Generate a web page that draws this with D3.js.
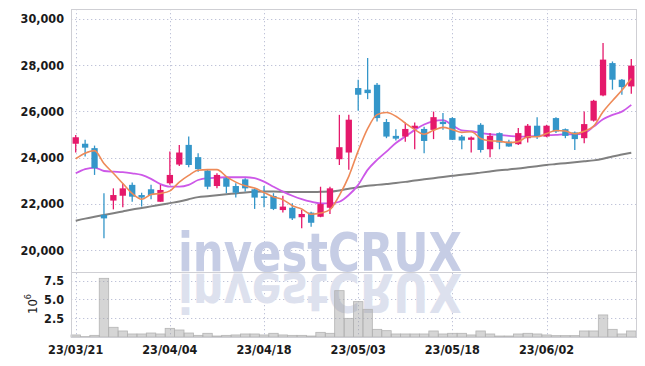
<!DOCTYPE html>
<html>
<head>
<meta charset="utf-8">
<script src="https://cdn.jsdelivr.net/npm/d3@7"></script>
<style>
html, body { margin: 0; padding: 0; background: #fff; }
svg { display: block; }
text { font-family: "DejaVu Sans Condensed", "DejaVu Sans", sans-serif; font-stretch: condensed; fill: #1a1a1a; }
</style>
</head>
<body>
<svg id="chart" width="645" height="366"></svg>
<script>
// 캔들 + 이동평균 + 거래량

const dates = [
    "23/03/21", "23/03/22", "23/03/23", "23/03/24", "23/03/27", "23/03/28", "23/03/29", "23/03/30", "23/03/31", "23/04/03",
    "23/04/04", "23/04/05", "23/04/06", "23/04/07", "23/04/10", "23/04/11", "23/04/12", "23/04/13", "23/04/14", "23/04/17",
    "23/04/18", "23/04/19", "23/04/20", "23/04/21", "23/04/24", "23/04/25", "23/04/26", "23/04/27", "23/04/28", "23/05/02",
    "23/05/03", "23/05/04", "23/05/08", "23/05/09", "23/05/10", "23/05/11", "23/05/12", "23/05/15", "23/05/16", "23/05/17",
    "23/05/18", "23/05/19", "23/05/22", "23/05/23", "23/05/24", "23/05/25", "23/05/26", "23/05/30", "23/05/31", "23/06/01",
    "23/06/02", "23/06/05", "23/06/07", "23/06/08", "23/06/09", "23/06/12", "23/06/13", "23/06/14", "23/06/15", "23/06/16"
];

const opens = [
    24600, 24600, 24410, 21520, 22140, 22350, 22820, 22380, 22630, 22090,
    22890, 23700, 24550, 24020, 23440, 22770, 23110, 22770, 23060, 22630,
    22320, 22340, 21730, 21830, 21420, 21620, 21440, 21830, 23930, 24220,
    27010, 26940, 27150, 25540, 24940, 24910, 25280, 25240, 25200, 25550,
    25710, 24910, 24770, 25420, 24360, 25060, 24690, 24580, 24840, 25380,
    24910, 25710, 25230, 25090, 24840, 25600, 26690, 28090, 27370, 27080
];
const highs = [
    24980, 24770, 24520, 22460, 22670, 22890, 22920, 22480, 22820, 22820,
    24260, 24550, 24910, 24190, 23470, 23320, 23180, 22890, 23110, 22670,
    22770, 22460, 22350, 22020, 21730, 21660, 22740, 22740, 25850, 25850,
    27370, 28310, 27230, 25670, 25230, 25520, 25520, 25340, 25990, 25930,
    25750, 24980, 24910, 25490, 25060, 25090, 24770, 25280, 25450, 25750,
    25420, 25750, 25260, 25130, 25990, 26500, 28960, 28160, 27400, 28270
];
const lows = [
    24220, 24050, 23250, 20510, 21760, 21850, 22090, 21880, 22200, 22090,
    22820, 23640, 23580, 23390, 22630, 22670, 22460, 22270, 22530, 21780,
    21850, 21730, 21620, 21300, 20940, 21010, 21420, 21560, 23680, 23470,
    26030, 26530, 25560, 24840, 24740, 24690, 24360, 24190, 24800, 25200,
    24760, 24360, 24220, 24220, 24020, 24360, 24470, 24550, 24650, 24800,
    24880, 25060, 24840, 24330, 24620, 25560, 26650, 26940, 26720, 26760
];
const closes = [
    24880, 24430, 23540, 21370, 22380, 22670, 22310, 22270, 22380, 22600,
    23250, 24220, 23680, 23500, 22740, 23250, 22740, 22480, 22670, 22270,
    22300, 21780, 21880, 21370, 21560, 21180, 21990, 22670, 24450, 25640,
    26720, 26790, 25710, 24910, 24820, 25240, 25380, 24720, 25750, 25450,
    24770, 24740, 24870, 24330, 24940, 24650, 24480, 25060, 25380, 24910,
    25380, 25130, 24940, 24800, 25450, 26460, 28240, 27370, 27050, 27980
];

// 거래량 (백만)
const volumes = [
    0.27, 0.05, 0.22, 7.8, 1.29, 0.8, 0.4, 0.4, 0.53, 0.4,
    1.15, 0.93, 0.53, 0.22, 0.49, 0.13, 0.22, 0.27, 0.4, 0.4,
    0.27, 0.49, 0.27, 0.22, 0.22, 0.13, 0.62, 0.49, 6.16, 2.48,
    4.7, 3.68, 1.02, 0.84, 0.4, 0.4, 0.4, 0.4, 0.8, 0.4,
    0.49, 0.49, 0.27, 0.8, 0.4, 0.13, 0.13, 0.4, 0.49, 0.4,
    0.27, 0.18, 0.18, 0.18, 0.8, 0.8, 2.93, 1.02, 0.4, 0.8
];

const ma5 = [
    23950, 24190, 24300, 23740, 23320, 22880, 22450, 22200, 22400, 22450,
    22560, 22940, 23230, 23450, 23480, 23480, 23180, 22940, 22780, 22680,
    22490, 22300, 22180, 21920, 21780, 21550, 21600, 21750, 22370, 23190,
    24290, 25250, 25860, 25950, 25790, 25490, 25210, 25010, 25180, 25310,
    25210, 25090, 25120, 24830, 24730, 24710, 24650, 24690, 24900, 24900,
    25040, 25170, 25150, 25030, 25140, 25360, 25980, 26460, 26910, 27420
];
const ma20 = [
    23320, 23500, 23570, 23420, 23390, 23370, 23320, 23250, 23080, 22850,
    22740, 22740, 22820, 23030, 23110, 23130, 23150, 23150, 23150, 23110,
    22960, 22740, 22530, 22350, 22200, 22090, 22020, 22020, 22090, 22380,
    22820, 23470, 23900, 24260, 24630, 24910, 25200, 25430, 25580, 25620,
    25400, 25180, 25140, 25060, 25010, 24980, 24940, 24910, 24910, 24940,
    24970, 24980, 25010, 25010, 25060, 25340, 25660, 25850, 25990, 26280
];
const ma120 = [
    21270, 21360, 21440, 21516, 21590, 21670, 21750, 21820, 21890, 21960,
    22030, 22100, 22200, 22290, 22330, 22370, 22410, 22450, 22490, 22520,
    22530, 22530, 22520, 22510, 22510, 22510, 22520, 22530, 22580, 22650,
    22720, 22780, 22820, 22860, 22900, 22950, 23010, 23060, 23110, 23160,
    23210, 23260, 23300, 23350, 23400, 23450, 23490, 23530, 23580, 23630,
    23680, 23720, 23760, 23800, 23840, 23880, 23950, 24050, 24130, 24210
];

const priceTicks = [20000, 22000, 24000, 26000, 28000, 30000];
const volumeTicks = [2.5, 5.0, 7.5];
const tickDates = ["23/03/21", "23/04/04", "23/04/18", "23/05/03", "23/05/18", "23/06/02"];

const upColor = "#e5196b";
const downColor = "#3496c9";

// ---- layout ----
const plotLeft = 71, plotRight = 636, plotTop = 9, plotMid = 272, plotBottom = 337;

const svg = d3.select("#chart");

const x = d3.scaleBand().domain(dates).range([plotLeft, plotRight])
    .paddingInner(0.33).paddingOuter(0.165);
const cx = d => x(d) + x.bandwidth() / 2;

const y = d3.scaleLinear().domain([19050, 30430]).range([plotMid, plotTop]);
const yv = d3.scaleLinear().domain([0, 8.64]).range([plotBottom, plotMid]);

svg.append("defs").append("clipPath").attr("id", "clip-price")
    .append("rect").attr("x", plotLeft).attr("y", plotTop)
    .attr("width", plotRight - plotLeft).attr("height", plotMid - plotTop);

// ---- grid ----
const grid = svg.append("g").attr("stroke", "#bfc3d8").attr("stroke-dasharray", "1.3,2.7").attr("stroke-width", 1);

grid.selectAll(".hg").data(priceTicks).enter().append("line")
    .attr("x1", plotLeft).attr("x2", plotRight)
    .attr("y1", d => Math.round(y(d)) + 0.5).attr("y2", d => Math.round(y(d)) + 0.5);

grid.selectAll(".vg").data(volumeTicks).enter().append("line")
    .attr("x1", plotLeft).attr("x2", plotRight)
    .attr("y1", d => Math.round(yv(d)) + 0.5).attr("y2", d => Math.round(yv(d)) + 0.5);

grid.selectAll(".xg").data(tickDates).enter().append("line")
    .attr("x1", d => Math.round(cx(d)) + 0.5).attr("x2", d => Math.round(cx(d)) + 0.5)
    .attr("y1", plotTop).attr("y2", plotBottom);

// ---- watermark (글자 + 반사) ----
const wm = svg.append("g").attr("pointer-events", "none");
const wmText = (sel, fill) => sel
    .attr("x", 178).attr("y", 271)
    .attr("textLength", 284).attr("lengthAdjust", "spacingAndGlyphs")
    .style("font-family", "'DejaVu Sans', sans-serif")
    .style("font-stretch", "normal")
    .style("font-weight", "bold").style("font-size", "54px")
    .style("fill", fill)
    .text("investCRUX");
wm.append("text").call(wmText, "#c6cde5");
wm.append("g")
    .attr("transform", `translate(0, ${2 * 272.5}) scale(1, -1)`)
    .append("text").call(wmText, "#dde1ee");

// ---- volume ----
svg.append("g").selectAll("rect").data(dates).enter().append("rect")
    .attr("x", d => cx(d) - x.step() / 2)
    .attr("width", x.step())
    .attr("y", (d, i) => yv(volumes[i]))
    .attr("height", (d, i) => plotBottom - yv(volumes[i]))
    .attr("fill", "#9a9a9a").attr("fill-opacity", 0.42)
    .attr("stroke", "#b4b4b4").attr("stroke-width", 0.8);

// ---- frame ----
const frame = svg.append("g").attr("stroke", "#cfcfd4").attr("stroke-width", 1).attr("fill", "none");
frame.append("rect").attr("x", plotLeft + 0.5).attr("y", plotTop + 0.5)
    .attr("width", plotRight - plotLeft).attr("height", plotBottom - plotTop);
frame.append("line").attr("x1", plotLeft).attr("x2", plotRight + 1)
    .attr("y1", plotMid + 0.5).attr("y2", plotMid + 0.5);

// ---- moving averages ----
const plot = svg.append("g").attr("clip-path", "url(#clip-price)");

const maLine = arr => d3.line()
    .x((d, i) => cx(dates[i]))
    .y(d => y(d))
    .curve(d3.curveMonotoneX)(arr);

plot.append("path").attr("d", maLine(ma120)).attr("fill", "none")
    .attr("stroke", "#808080").attr("stroke-width", 2);
plot.append("path").attr("d", maLine(ma20)).attr("fill", "none")
    .attr("stroke", "#cd58e8").attr("stroke-width", 1.8);

// ---- candles ----
const candle = plot.selectAll(".candle").data(dates).enter().append("g")
    .attr("class", "candle")
    .attr("fill", (d, i) => closes[i] >= opens[i] ? upColor : downColor)
    .attr("stroke", (d, i) => closes[i] >= opens[i] ? upColor : downColor);

candle.append("line")
    .attr("x1", d => cx(d)).attr("x2", d => cx(d))
    .attr("y1", (d, i) => y(highs[i])).attr("y2", (d, i) => y(lows[i]))
    .attr("stroke-width", 1.3);

candle.append("rect")
    .attr("x", d => x(d))
    .attr("width", x.bandwidth())
    .attr("y", (d, i) => y(Math.max(opens[i], closes[i])))
    .attr("height", (d, i) => Math.max(1.5, Math.abs(y(opens[i]) - y(closes[i]))))
    .attr("stroke", "none");

plot.append("path").attr("d", maLine(ma5)).attr("fill", "none")
    .attr("stroke", "#ee8a58").attr("stroke-width", 1.6);

// ---- axes labels ----
const fmt = d3.format(",");
svg.append("g").selectAll("text").data(priceTicks).enter().append("text")
    .attr("x", 64).attr("y", d => y(d))
    .attr("dy", "0.36em").attr("text-anchor", "end")
    .style("font-size", "12.5px").style("font-weight", "bold")
    .text(d => fmt(d));

svg.append("g").selectAll("text").data(volumeTicks).enter().append("text")
    .attr("x", 64).attr("y", d => yv(d))
    .attr("dy", "0.36em").attr("text-anchor", "end")
    .style("font-size", "12.5px").style("font-weight", "bold")
    .text(d => d3.format(".1f")(d));

svg.append("g").selectAll("text").data(tickDates).enter().append("text")
    .attr("x", d => cx(d)).attr("y", 354)
    .attr("text-anchor", "middle")
    .style("font-size", "12.5px").style("font-weight", "bold")
    .text(d => d);

const unit = svg.append("text")
    .attr("transform", "translate(37, 304) rotate(-90)")
    .attr("text-anchor", "middle")
    .style("font-size", "13px");
unit.append("tspan").text("10");
unit.append("tspan").attr("dy", -6).style("font-size", "9px").text("6");
</script>
</body>
</html>
